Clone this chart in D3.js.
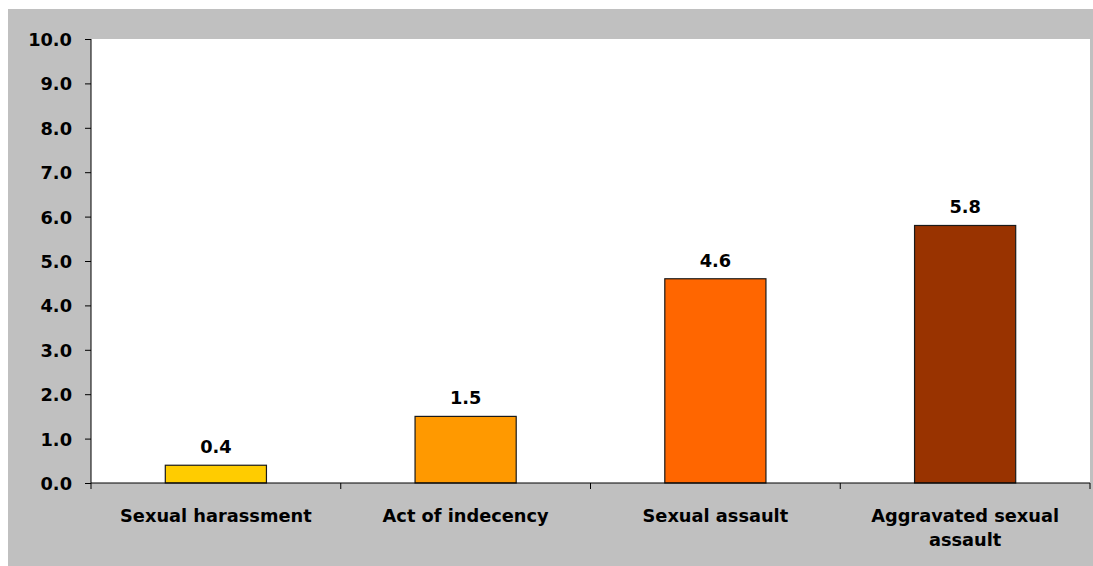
<!DOCTYPE html>
<html><head><meta charset="utf-8">
<script src="https://cdn.jsdelivr.net/npm/d3@7/dist/d3.min.js"></script>
<style>body{margin:0;background:#fff}svg{display:block}text{font-family:"DejaVu Sans",Verdana,sans-serif;font-weight:bold;fill:#000}</style>
</head><body><svg id="c" width="1093" height="566"></svg>
<script>
const categories = ["Sexual harassment", "Act of indecency", "Sexual assault", "Aggravated sexual assault"];
const values = [0.4, 1.5, 4.6, 5.8];
const colors = ["#FFCC00", "#FF9900", "#FF6600", "#993300"];
const yTicks = [0,1,2,3,4,5,6,7,8,9,10];

const FS = 17.8;
const svg = d3.select("#c");
svg.append("rect").attr("x",8).attr("y",9).attr("width",1085).attr("height",557).attr("fill","#C0C0C0");
const L=91, R=1090, T=39, B=483;
svg.append("rect").attr("x",L).attr("y",T).attr("width",R-L).attr("height",B-T).attr("fill","#fff");

const x = d3.scaleBand().domain(categories).range([L,R]).paddingInner(0.595).paddingOuter(0.2975);
const y = d3.scaleLinear().domain([0,10]).range([B,T]);

svg.selectAll("rect.bar").data(values).enter().append("rect").attr("class","bar")
  .attr("x",(d,i)=>x(categories[i])).attr("width",x.bandwidth())
  .attr("y",d=>y(d)).attr("height",d=>y(0)-y(d))
  .attr("fill",(d,i)=>colors[i]).attr("stroke","#1a1a1a").attr("stroke-width",1.2);

svg.selectAll("text.val").data(values).enter().append("text").attr("class","val")
  .attr("x",(d,i)=>x(categories[i])+x.bandwidth()/2).attr("y",d=>y(d)-12)
  .attr("text-anchor","middle").attr("font-size",FS).text(d=>d.toFixed(1));

// Y axis
const ya = svg.append("g").attr("transform",`translate(${L},0)`)
  .call(d3.axisLeft(y).tickValues(yTicks).tickSize(6).tickPadding(13).tickFormat(d3.format(".1f")));
ya.select(".domain").attr("stroke","#000").attr("d",`M0,${T}V${B}`);
ya.selectAll(".tick line").attr("stroke","#000");
ya.selectAll("text").attr("font-size",FS).attr("dy","0.36em").style("font-family",'"DejaVu Sans",Verdana,sans-serif').style("font-weight","bold");

// X axis
svg.append("line").attr("x1",L).attr("x2",R).attr("y1",B).attr("y2",B).attr("stroke","#000");
const bounds = d3.range(categories.length+1).map(i=>L+i*(R-L)/categories.length);
svg.selectAll("line.xt").data(bounds).enter().append("line")
  .attr("x1",d=>d).attr("x2",d=>d).attr("y1",B).attr("y2",B+6).attr("stroke","#000");

const wrapLines = {"Aggravated sexual assault":["Aggravated sexual","assault"]};
categories.forEach((c,i)=>{
  const lines = wrapLines[c] || [c];
  const t = svg.append("text").attr("text-anchor","middle").attr("font-size",FS)
    .attr("x",x(c)+x.bandwidth()/2).attr("y",522);
  lines.forEach((ln,j)=>t.append("tspan").attr("x",x(c)+x.bandwidth()/2).attr("dy",j?24:0).text(ln));
});
</script></body></html>
